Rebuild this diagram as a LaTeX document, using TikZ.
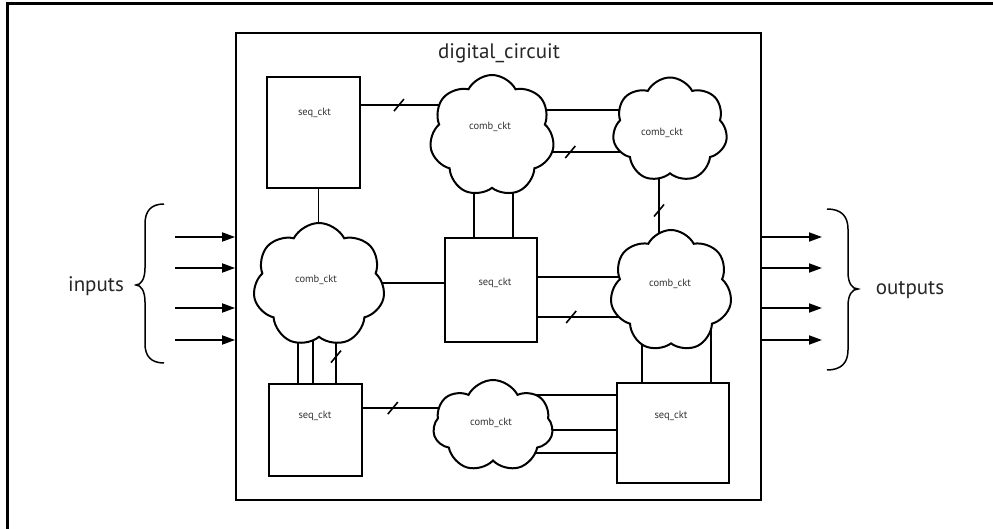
\documentclass[tikz,border=0pt]{standalone}
\usepackage{fontspec}
\setmainfont{PT Sans}
\usetikzlibrary{shapes.symbols,calc,arrows.meta,decorations.markings,backgrounds}
\begin{document}
\begin{tikzpicture}[x=1pt,y=-1pt,
  bigtext/.style={font=\fontsize{21}{24}\selectfont, text=black!85, inner sep=0pt},
  smalltext/.style={font=\fontsize{10.5}{12}\selectfont, text=black!80, inner sep=0pt},
  seqbox/.style={draw, line width=1.8pt, fill=white, inner sep=0pt},
  cloudbox/.style={cloud, cloud puffs=7, cloud puff arc=125, cloud ignores aspect,
    draw, line width=2pt, fill=white, inner sep=0pt},
  conn/.style={line width=1.8pt},
  busmark/.style={postaction={decorate}, decoration={markings,
    mark=at position #1 with {\pgftransformresetnontranslations
      \draw[line width=1.6pt] (-5pt,-6pt) -- (5pt,6pt);}}},
  busmark/.default=0.5,
  arr/.style={line width=1.8pt, -{Triangle[length=13pt,width=9pt]}},
  brace/.style={line width=1.5pt}
]
\useasboundingbox (0,0) rectangle (993,529);
% outer frame (top and left only)
\draw[line width=2.4pt] (7.5,529) -- (7.5,3.5) -- (993,3.5);

% main block
\node[draw, line width=1.8pt, minimum width=525pt, minimum height=467pt, inner sep=0pt] (main) at (498.5,266.5) {};
\node[bigtext] (title) at (499,53) {digital\_circuit};

% sequential blocks
\node[seqbox, minimum width=93pt, minimum height=111pt] (seq1) at (313.5,132.5) {};
\node[seqbox, minimum width=92pt, minimum height=104pt] (seq2) at (491,290) {};
\node[seqbox, minimum width=93pt, minimum height=92pt] (seq3) at (315.5,430) {};
\node[seqbox, minimum width=112pt, minimum height=100pt] (seq4) at (673,433) {};
\node[smalltext] (s1) at (314.5,113) {seq\_ckt};
\node[smalltext] (s2) at (495,283) {seq\_ckt};
\node[smalltext] (s3) at (315,416) {seq\_ckt};
\node[smalltext] (s4) at (671,416) {seq\_ckt};

% combinational clouds
\node[cloudbox, minimum width=125pt, minimum height=122pt] (c1) at (492,136) {};
\node[cloudbox, minimum width=115pt, minimum height=105pt] (c2) at (670,130) {};
\node[cloudbox, minimum width=132pt, minimum height=124pt] (c3) at (319,285) {};
\node[cloudbox, minimum width=122pt, minimum height=122pt] (c4) at (671,291) {};
\node[cloudbox, minimum width=120pt, minimum height=92pt] (c5) at (493,426) {};
\node[smalltext] (t1) at (490,127) {comb\_ckt};
\node[smalltext] (t2) at (662,133) {comb\_ckt};
\node[smalltext] (t3) at (316,280) {comb\_ckt};
\node[smalltext] (t4) at (670,284) {comb\_ckt};
\node[smalltext] (t5) at (491,423) {comb\_ckt};

% connectors (behind the blocks)
\begin{scope}[on background layer]
  \draw[conn, busmark=0.29] ($(seq1.north east)+(0,29)$) coordinate (a) -- (a -| c1.center);
  \draw[conn] ($(c1.center)+(0,-26)$) -- ($(c2.center)+(0,-20)$);
  \draw[conn, busmark=0.44] ($(c1.center)+(0,16)$) -- ($(c2.center)+(0,22)$);
  \draw[conn, busmark=0.50] ($(c2.center)+(-11,0)$) coordinate (a) -- (a |- c4.center);
  \draw[conn] ($(seq1.south)+(5,0)$) coordinate (a) -- (a |- c3.center);
  \draw[conn] ($(c1.center)+(-18,0)$) coordinate (a) -- (a |- seq2.north);
  \draw[conn] ($(c1.center)+(21,0)$) coordinate (a) -- (a |- seq2.north);
  \draw[conn] ($(c3.center)+(0,-2)$) coordinate (a) -- (a -| seq2.west);
  \draw[conn] ($(seq2.east)+(0,-13)$) coordinate (a) -- (a -| c4.center);
  \draw[conn, busmark=0.25] ($(seq2.east)+(0,27)$) coordinate (a) -- (a -| c4.center);
  \draw[conn] ($(c4.center)+(-29,0)$) coordinate (a) -- (a |- seq4.north);
  \draw[conn] ($(c4.center)+(40,0)$) coordinate (a) -- (a |- seq4.north);
  \draw[conn] ($(c3.center)+(-21,0)$) coordinate (a) -- (a |- seq3.north);
  \draw[conn] ($(c3.center)+(-6,0)$) coordinate (a) -- (a |- seq3.north);
  \draw[conn, busmark=0.73] ($(c3.center)+(17,0)$) coordinate (a) -- (a |- seq3.north);
  \draw[conn, busmark=0.23] ($(seq3.north east)+(0,25)$) coordinate (a) -- (a -| c5.center);
  \draw[conn] ($(c5.center)+(0,-31)$) coordinate (a) -- (a -| seq4.west);
  \draw[conn] ($(c5.center)+(0,4)$) coordinate (a) -- (a -| seq4.west);
  \draw[conn] ($(c5.center)+(0,27)$) coordinate (a) -- (a -| seq4.west);
\end{scope}

% inputs
\coordinate (i1) at (175,237);
\coordinate (i2) at (175,268);
\coordinate (i3) at (175,308);
\coordinate (i4) at (175,340);
\foreach \p in {i1,i2,i3,i4} \draw[arr] (\p) -- (\p -| main.west);
\draw[brace] (164,204) .. controls (151,204) and (145,211) .. (145,224)
  -- (145,268) .. controls (145,279) and (141,285) .. (136,285)
  .. controls (141,285) and (145,291) .. (145,302)
  -- (145,344) .. controls (145,356) and (151,363) .. (164,363);
\node[bigtext] (inp) at (96,286) {inputs};

% outputs
\coordinate (o1) at (822,237);
\coordinate (o2) at (822,268);
\coordinate (o3) at (822,308);
\coordinate (o4) at (822,340);
\foreach \p in {o1,o2,o3,o4} \draw[arr] (\p -| main.east) -- (\p);
\draw[brace] (827,209) .. controls (841,209) and (848,216) .. (848,229)
  -- (848,272) .. controls (848,283) and (852,289) .. (858,289)
  .. controls (852,289) and (848,295) .. (848,306)
  -- (848,350) .. controls (848,363) and (841,370) .. (827,370);
\node[bigtext] (outp) at (910,290) {outputs};
\end{tikzpicture}
\end{document}
